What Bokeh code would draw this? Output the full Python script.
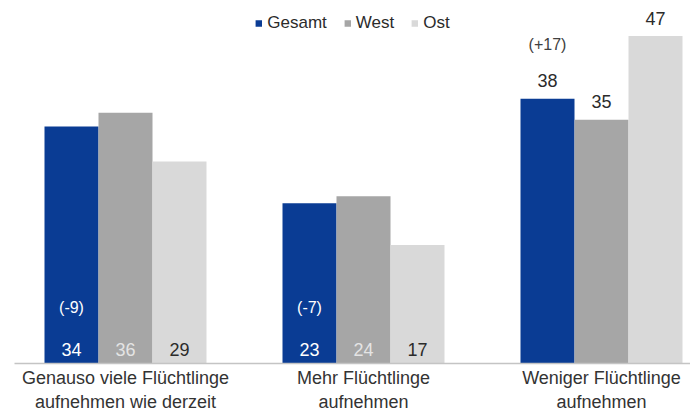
from bokeh.plotting import figure
from bokeh.models import ColumnDataSource, Range1d, FixedTicker, Legend, LegendItem
from bokeh.core.properties import value
from bokeh.embed import file_html
from bokeh.resources import INLINE

# ---- data ----
categories = ["Genauso viele Flüchtlinge\naufnehmen wie derzeit",
              "Mehr Flüchtlinge\naufnehmen",
              "Weniger Flüchtlinge\naufnehmen"]
series = ["Gesamt", "West", "Ost"]
gesamt = [34, 23, 38]
west = [36, 24, 35]
ost = [29, 17, 47]
changes = ["(-9)", "(-7)", "(+17)"]

# ---- style ----
colors = ["#0a3c94", "#a6a6a6", "#d9d9d9"]
inside_label_colors = ["#ffffff", "#e4e4e4", "#2b2b2b"]
labels_inside = [True, True, False]
FONT = "Liberation Sans"
bar_w = 54 / 238
offsets = [-bar_w, 0.0, bar_w]

p = figure(width=690, height=414,
           x_range=Range1d(-0.4664, -0.4664 + 676 / 238),
           y_range=Range1d(0, 52.1),
           output_backend="svg", toolbar_location=None,
           min_border_left=14, min_border_right=0, min_border_top=0)

values = [gesamt, west, ost]
renderers = []
for s, (name, vals, col, lcol) in enumerate(zip(series, values, colors, inside_label_colors)):
    xs = [i + offsets[s] for i in range(len(categories))]
    src = ColumnDataSource(dict(x=xs, top=vals))
    r = p.vbar(x="x", top="top", width=bar_w, source=src, fill_color=col, line_color=None)
    renderers.append(r)
    ly = [0 if labels_inside[i] else vals[i] for i in range(len(vals))]
    loff = [-14 if labels_inside[i] else -18 for i in range(len(vals))]
    lc = [lcol if labels_inside[i] else "#2b2b2b" for i in range(len(vals))]
    tsrc = ColumnDataSource(dict(x=xs, y=ly, t=[str(v) for v in vals], yo=loff, c=lc))
    p.text(x="x", y="y", text="t", y_offset="yo", text_color="c", source=tsrc,
           text_align="center", text_baseline="middle",
           text_font=value(FONT), text_font_size="18px")

# change labels on Gesamt bars
cx = [i + offsets[0] for i in range(len(categories))]
cy = [0 if labels_inside[i] else gesamt[i] for i in range(len(categories))]
coff = [-56 if labels_inside[i] else -54 for i in range(len(categories))]
cc = ["#ffffff" if labels_inside[i] else "#404040" for i in range(len(categories))]
csrc = ColumnDataSource(dict(x=cx, y=cy, t=changes, yo=coff, c=cc))
p.text(x="x", y="y", text="t", y_offset="yo", text_color="c", source=csrc,
       text_align="center", text_baseline="middle",
       text_font=value(FONT), text_font_size="16px")

legend = Legend(items=[LegendItem(label=n, renderers=[r]) for n, r in zip(series, renderers)],
                location="top_center", orientation="horizontal",
                border_line_color=None, background_fill_alpha=0,
                label_text_font=FONT, label_text_font_size="17px", label_text_color="#2b2b2b",
                glyph_width=8, glyph_height=8, spacing=16, label_standoff=5,
                margin=13, padding=2)
p.add_layout(legend)

p.xaxis.ticker = FixedTicker(ticks=[0, 1, 2])
p.xaxis.major_label_overrides = {i: c for i, c in enumerate(categories)}
p.xaxis.axis_line_color = "#c4c4c4"
p.xaxis.axis_line_width = 1.5
p.xaxis.major_tick_line_color = None
p.xaxis.minor_tick_line_color = None
p.xaxis.major_tick_out = 0
p.xaxis.major_label_standoff = 4
p.xaxis.major_label_text_font = FONT
p.xaxis.major_label_text_font_size = "18px"
p.xaxis.major_label_text_color = "#333333"
p.yaxis.visible = False
p.xgrid.grid_line_color = None
p.ygrid.grid_line_color = None
p.outline_line_color = None

open("out.html", "w").write(file_html(p, INLINE))
